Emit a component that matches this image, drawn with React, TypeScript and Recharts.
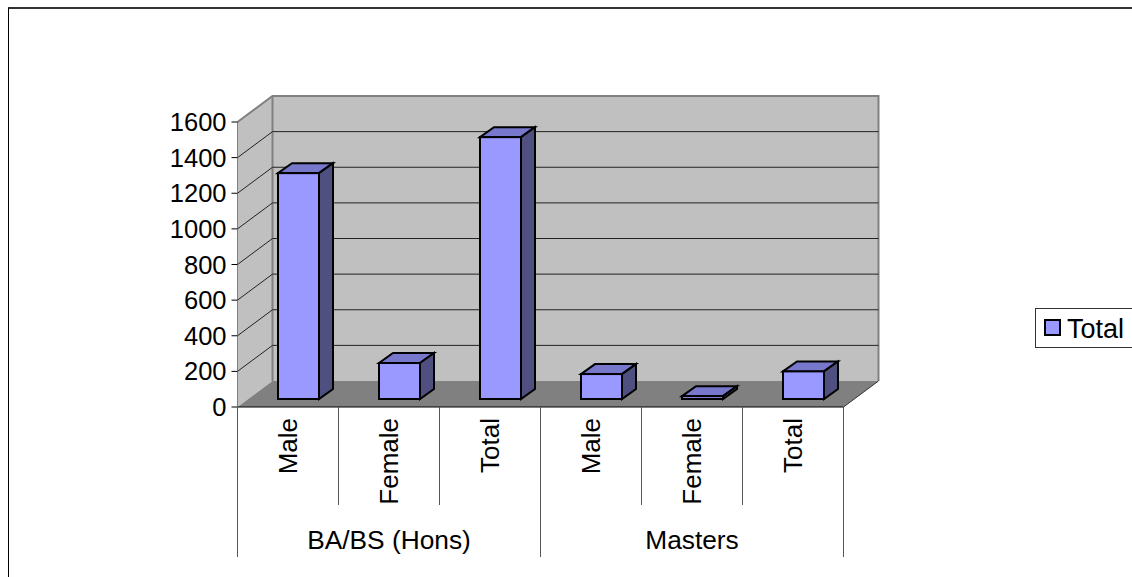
import { BarChart, Bar, XAxis, YAxis, CartesianGrid, Legend } from "recharts";

const categories = ["Male", "Female", "Total", "Male", "Female", "Total"];
const groups = ["BA/BS (Hons)", "BA/BS (Hons)", "BA/BS (Hons)", "Masters", "Masters", "Masters"];
const totals = [1268, 202, 1470, 140, 16, 155];
const yTicks = [0, 200, 400, 600, 800, 1000, 1200, 1400, 1600];

const data = categories.map((name, i) => ({ name, group: groups[i], total: totals[i] }));

const LEFT = 237.5;
const RIGHT = 843.5;
const TOP = 122;
const BASE = 407;
const DEPTH_X = 35;
const DEPTH_Y = 26;
const CELL = (RIGHT - LEFT) / categories.length;
const LEGEND_W = 110;
const FONT = "'Liberation Sans', Arial, sans-serif";
const TEXT_SIZE = 26;

// back wall, side wall and floor of the 3d box, sits behind the chart svg
function Walls() {
  return (
    <svg width={1132} height={577} style={{ position: "absolute", left: 0, top: 0 }}>
      <polygon
        points={`${LEFT},${TOP} ${LEFT + DEPTH_X},${TOP - DEPTH_Y} ${LEFT + DEPTH_X},${BASE - DEPTH_Y} ${LEFT},${BASE}`}
        fill="#c0c0c0"
      />
      <rect x={LEFT + DEPTH_X} y={TOP - DEPTH_Y} width={RIGHT - LEFT} height={BASE - TOP} fill="#c0c0c0" />
      <polygon
        points={`${LEFT},${BASE} ${LEFT + DEPTH_X},${BASE - DEPTH_Y} ${RIGHT + DEPTH_X},${BASE - DEPTH_Y} ${RIGHT},${BASE}`}
        fill="#808080"
      />
      <path
        d={`M${LEFT},${TOP} L${LEFT + DEPTH_X},${TOP - DEPTH_Y} H${RIGHT + DEPTH_X} V${BASE - DEPTH_Y}`}
        fill="none"
        stroke="#808080"
        strokeWidth={2}
      />
      <path d={`M${LEFT + DEPTH_X},${TOP - DEPTH_Y} V${BASE - DEPTH_Y}`} stroke="#808080" strokeWidth={2} />
      <path d={`M${RIGHT},${BASE} L${RIGHT + DEPTH_X},${BASE - DEPTH_Y}`} stroke="#333" strokeWidth={1} />
    </svg>
  );
}

function GridLine(props: any) {
  const { y1 } = props;
  if (y1 >= BASE - 1 || y1 <= TOP + 1) return <g />;
  return (
    <path
      d={`M${LEFT},${y1} L${LEFT + DEPTH_X},${y1 - DEPTH_Y} H${RIGHT + DEPTH_X}`}
      fill="none"
      stroke="#222"
      strokeWidth={1}
    />
  );
}

function Bar3D(props: any) {
  const { x, y, width, height } = props;
  const fx = x + 10.5;
  const fy = y - 8;
  const dx = 14;
  const dy = 10;
  return (
    <g stroke="#000" strokeWidth={2} strokeLinejoin="miter">
      <polygon
        points={`${fx},${fy} ${fx + dx},${fy - dy} ${fx + width + dx},${fy - dy} ${fx + width},${fy}`}
        fill="#7777cc"
      />
      <polygon
        points={`${fx + width},${fy} ${fx + width + dx},${fy - dy} ${fx + width + dx},${fy + height - dy} ${fx + width},${fy + height}`}
        fill="#4f4f80"
      />
      <rect x={fx} y={fy} width={width} height={height} fill="#9999ff" />
    </g>
  );
}

function CategoryTick(props: any) {
  const { x, index } = props;
  const left = x - CELL / 2;
  const isGroupMiddle = index % 3 === 1;
  const startsGroup = index % 3 === 0;
  return (
    <g fontFamily={FONT} fontSize={TEXT_SIZE} fill="#000">
      <text x={x + 8.5} y={418} textAnchor="end" transform={`rotate(-90 ${x + 8.5} 418)`}>
        {categories[index]}
      </text>
      <line x1={left} x2={left} y1={BASE} y2={startsGroup ? 557 : 505} stroke="#555" strokeWidth={1} />
      {index === categories.length - 1 && (
        <line x1={x + CELL / 2} x2={x + CELL / 2} y1={BASE} y2={557} stroke="#555" strokeWidth={1} />
      )}
      {isGroupMiddle && (
        <text x={x} y={549} textAnchor="middle" fontSize={26.3}>
          {groups[index]}
        </text>
      )}
    </g>
  );
}

function LegendBox(props: any) {
  const item = props.payload?.[0];
  return (
    <div
      style={{
        boxSizing: "border-box",
        width: LEGEND_W,
        height: 40,
        border: "1px solid #333",
        background: "#fff",
        position: "relative",
        fontFamily: FONT,
        fontSize: 27,
        color: "#000",
      }}
    >
      <span
        style={{
          position: "absolute",
          left: 8,
          top: 10,
          width: 13,
          height: 13,
          background: "#9999ff",
          border: "2.5px solid #000",
        }}
      />
      <span style={{ position: "absolute", left: 31, top: 6, lineHeight: "28px" }}>{item?.value}</span>
    </div>
  );
}

export default function App() {
  return (
    <div style={{ position: "absolute", left: 0, top: 0, width: 1132, height: 577, overflow: "hidden", background: "#fff" }}>
      <div style={{ position: "absolute", left: 8, top: 7, right: 0, bottom: 0, borderTop: "2px solid #333", borderLeft: "1px solid #000" }} />
      <Walls />
      <BarChart
        width={1132}
        height={577}
        data={data}
        margin={{ top: TOP, right: 1132 - RIGHT - LEGEND_W, bottom: 0, left: LEFT - 60 }}
        barCategoryGap={0}
      >
        <CartesianGrid vertical={false} horizontal={GridLine as any} />
        <XAxis
          dataKey="name"
          height={577 - BASE}
          interval={0}
          tickLine={false}
          axisLine={{ stroke: "#000", strokeWidth: 1 }}
          tick={CategoryTick as any}
        />
        <YAxis
          width={60}
          domain={[0, 1600]}
          ticks={yTicks}
          interval={0}
          tickSize={6}
          tickMargin={5}
          tickLine={{ stroke: "#000" }}
          axisLine={{ stroke: "#808080" }}
          tick={{ fontSize: 25.5, fontFamily: FONT, fill: "#000", dy: 0 }}
        />
        <Legend
          layout="vertical"
          align="right"
          verticalAlign="top"
          content={LegendBox as any}
          wrapperStyle={{ left: 1035, top: 308, width: LEGEND_W, bottom: "auto", right: "auto" }}
        />
        <Bar dataKey="total" name="Total" barSize={41} shape={Bar3D as any} isAnimationActive={false} />
      </BarChart>
    </div>
  );
}
